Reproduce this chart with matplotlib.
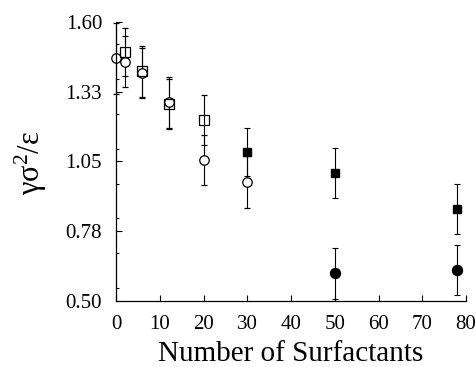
import matplotlib
matplotlib.use("Agg")
import matplotlib.pyplot as plt
from matplotlib.ticker import MultipleLocator

# Data
oc_x = [0, 2, 6, 12, 20, 30]
oc_y = [1.456, 1.443, 1.398, 1.283, 1.055, 0.970]
oc_e = [0.14, 0.10, 0.10, 0.10, 0.098, 0.103]

os_x = [2, 6, 12, 20]
os_y = [1.483, 1.405, 1.276, 1.213]
os_e = [0.095, 0.10, 0.10, 0.10]

fs_x = [30, 50, 78]
fs_y = [1.086, 1.003, 0.862]
fs_e = [0.095, 0.099, 0.10]

fc_x = [50, 78]
fc_y = [0.608, 0.621]
fc_e = [0.10, 0.10]

yticks = [0.5, 0.775, 1.05, 1.325, 1.6]
ytick_labels = ["0.50", "0.78", "1.05", "1.33", "1.60"]
xticks = [0, 10, 20, 30, 40, 50, 60, 70, 80]

plt.rcParams['font.family'] = ['Liberation Serif', 'DejaVu Serif']
plt.rcParams['mathtext.fontset'] = 'stix'

fig = plt.figure(figsize=(4.77, 3.67), dpi=100)
ax = fig.add_axes([0.2432, 0.1807, 0.7338, 0.7594])

common = dict(ecolor='black', elinewidth=0.8, capsize=2, capthick=0.8,
              linestyle='none', clip_on=False)
ax.errorbar(oc_x, oc_y, yerr=oc_e, fmt='o', mfc='white', mec='black', mew=0.9, ms=6.8, **common)
ax.errorbar(os_x, os_y, yerr=os_e, fmt='s', mfc='none', mec='black', mew=0.9, ms=6.5, **common)
ax.errorbar(fs_x, fs_y, yerr=fs_e, fmt='s', mfc='black', mec='black', ms=6.2, **common)
ax.errorbar(fc_x, fc_y, yerr=fc_e, fmt='o', mfc='black', mec='black', ms=7.2, **common)

ax.set_xlim(0, 80)
ax.set_ylim(0.5, 1.6)
ax.set_yticks(yticks)
ax.set_yticklabels(ytick_labels)
ax.set_xticks(xticks)
ax.yaxis.set_minor_locator(MultipleLocator(0.1375))
ax.tick_params(direction='in', which='both', labelsize=15)
ax.tick_params(which='major', length=4, width=0.8)
ax.tick_params(which='minor', length=2.5, width=0.8)
ax.tick_params(axis='y', pad=10)
ax.tick_params(axis='x', pad=10)
ax.spines['top'].set_visible(False)
ax.spines['right'].set_visible(False)
for s in ('left', 'bottom'):
    ax.spines[s].set_linewidth(0.9)

ax.set_xlabel('Number of Surfactants', fontsize=21, labelpad=5)
fig.text(0.065, 0.555, r'$\mathregular{γσ^{2}/ε}$', rotation=90, fontsize=22,
         ha='center', va='center')

fig.savefig('out.png', dpi=100)
